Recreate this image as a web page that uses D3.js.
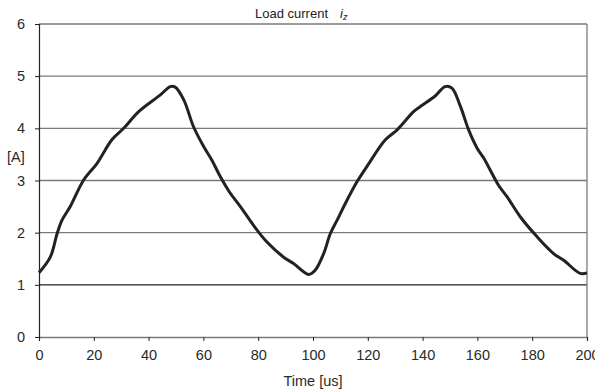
<!DOCTYPE html>
<html>
<head>
<meta charset="utf-8">
<script src="https://cdn.jsdelivr.net/npm/d3@7"></script>
<style>
  body { margin: 0; background: #fff; }
  svg { display: block; font-family: "Liberation Sans", Arial, sans-serif; }
</style>
</head>
<body>
<svg id="chart" width="595" height="391"></svg>
<script>
const width = 595;
const height = 391;

// load current samples
const timeUs = [0, 4.1, 6.6, 8.4, 11.4, 16.3, 21.2, 26.6, 30.9, 36.4, 44.3, 47.9, 49.7, 52.8, 56.4, 60.1, 63.1, 66.2, 69.5,
  73.5, 78.3, 83.2, 89.3, 92.9, 98.4, 100.8, 103.9, 106.3, 108.8, 111.8, 116.1, 119.7, 126.4, 130.7, 136.7, 139.2, 144.6,
  148.2, 150.7, 153.8, 156.8, 159.9, 162.3, 167.7, 170.8, 175.7, 181.8, 187.8, 191.5, 197.5, 200];
const currentA = [1.23, 1.53, 1.98, 2.24, 2.50, 3.01, 3.33, 3.78, 4.0, 4.32, 4.64, 4.80, 4.79, 4.55, 4.03, 3.65, 3.39, 3.07, 2.78,
  2.50, 2.14, 1.82, 1.53, 1.41, 1.20, 1.28, 1.60, 1.98, 2.24, 2.56, 2.98, 3.27, 3.78, 3.97, 4.32, 4.42, 4.62,
  4.80, 4.77, 4.42, 3.97, 3.62, 3.43, 2.91, 2.69, 2.30, 1.92, 1.60, 1.47, 1.22, 1.23];
const xTicks = [0, 20, 40, 60, 80, 100, 120, 140, 160, 180, 200];
const yTicks = [0, 1, 2, 3, 4, 5, 6];

const margin = {top: 24, right: 8, bottom: 54, left: 39};
const svg = d3.select("#chart");

const x = d3.scaleLinear().domain([0, 200]).range([margin.left, width - margin.right]);
const y = d3.scaleLinear().domain([0, 6]).range([height - margin.bottom, margin.top]);

//------------ grid ------------------------------------------------------------//
svg.append("g")
    .selectAll("line")
    .data(yTicks.filter(d => d > 0))
    .join("line")
    .attr("x1", x(0)).attr("x2", x(200))
    .attr("y1", d => y(d)).attr("y2", d => y(d))
    .attr("stroke", d => d === 1 ? "#222" : "#7a7a7a")
    .attr("stroke-width", 1.3);

// right border
svg.append("line")
    .attr("x1", x(200)).attr("x2", x(200))
    .attr("y1", y(6)).attr("y2", y(0))
    .attr("stroke", "#7a7a7a").attr("stroke-width", 1.3);

//------------ axes ------------------------------------------------------------//
const xAxis = svg.append("g")
    .attr("transform", `translate(0,${y(0)})`)
    .call(d3.axisBottom(x).tickValues(xTicks).tickFormat(d3.format("d")).tickSize(4).tickPadding(9));
xAxis.select(".domain").attr("stroke", "#7a7a7a").attr("stroke-width", 1.3);

const yAxis = svg.append("g")
    .attr("transform", `translate(${x(0)},0)`)
    .call(d3.axisLeft(y).tickValues(yTicks).tickFormat(d3.format("d")).tickSize(4).tickPadding(10));
yAxis.select(".domain").attr("stroke", "#222").attr("stroke-width", 1.2);

svg.selectAll(".tick line").attr("stroke", "#222");
svg.selectAll(".tick text").attr("font-size", 14.5).attr("fill", "#2a2a2a")
    .attr("font-family", "Liberation Sans, Arial, sans-serif");

//------------ curve -----------------------------------------------------------//
const line = d3.line()
    .x((d, i) => x(timeUs[i]))
    .y(d => y(d))
    .curve(d3.curveCatmullRom.alpha(0.5));

svg.append("path")
    .datum(currentA)
    .attr("d", line)
    .attr("fill", "none")
    .attr("stroke", "#222")
    .attr("stroke-width", 3)
    .attr("stroke-linejoin", "round");

//------------ labels ----------------------------------------------------------//
const title = svg.append("text")
    .attr("x", 255).attr("y", 18)
    .attr("font-size", 13).attr("fill", "#222");
title.append("tspan").text("Load current");
title.append("tspan").attr("dx", 12).attr("font-style", "italic").text("i");
title.append("tspan").attr("font-style", "italic").attr("font-size", 9).attr("dy", 2).text("z");

svg.append("text")
    .attr("x", 7).attr("y", 162)
    .attr("font-size", 14.5).attr("fill", "#2a2a2a")
    .text("[A]");

svg.append("text")
    .attr("x", (x(0) + x(200)) / 2).attr("y", 386)
    .attr("text-anchor", "middle")
    .attr("font-size", 14.5).attr("fill", "#2a2a2a")
    .text("Time [us]");
</script>
</body>
</html>
